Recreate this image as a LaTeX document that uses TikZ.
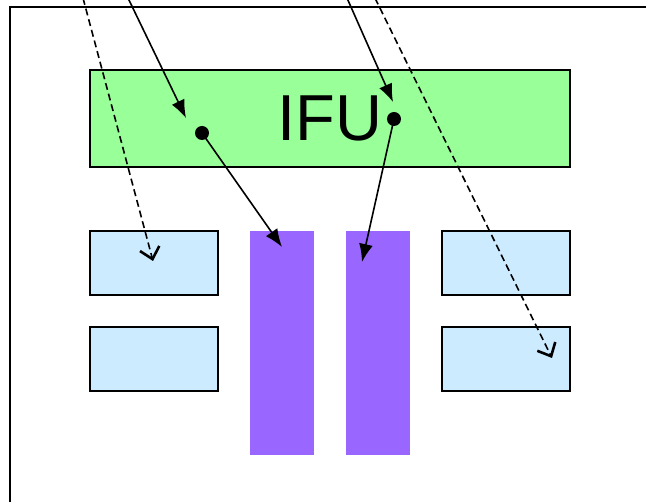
\documentclass[tikz,border=0pt]{standalone}
\usepackage{fontspec}
\setmainfont{Liberation Sans}
\usetikzlibrary{arrows.meta}
\definecolor{ifugreen}{HTML}{99FF99}
\definecolor{lightblue}{HTML}{CCEBFF}
\definecolor{barpurple}{HTML}{9966FF}
\begin{document}
\begin{tikzpicture}[x=1pt,y=-1pt,
  ifubox/.style={draw=black,line width=1.8pt,fill=ifugreen,minimum width=480pt,minimum height=97pt,inner sep=0pt,font=\fontsize{65}{78}\selectfont},
  bluebox/.style={draw=black,line width=1.8pt,fill=lightblue,minimum width=128pt,minimum height=64pt,inner sep=0pt},
  bar/.style={fill=barpurple,draw=none,minimum width=64pt,minimum height=224pt,inner sep=0pt},
  solidarrow/.style={line width=1.6pt,-{Latex[length=18pt,width=14pt]}},
  dasharrow/.style={line width=1.6pt,dash pattern=on 7pt off 4pt,-{Straight Barb[length=11pt,width=20pt,line width=2.6pt]}},
  dot/.style={circle,fill=black,inner sep=0pt,minimum size=14pt}]
\useasboundingbox (0,0) rectangle (646,502);
\clip (0,0) rectangle (646,502);
\draw[line width=1.6pt] (10,510) -- (10,7) -- (650,7);
\node[ifubox] (ifu) at (330,118.5) {IFU};
\node[bluebox] (lt) at (154,263) {};
\node[bluebox] (lb) at (154,359) {};
\node[bluebox] (rt) at (506,263) {};
\node[bluebox] (rb) at (506,359) {};
\node[bar] (pl) at (282,343) {};
\node[bar] (pr) at (378,343) {};
\node[dot] (dl) at (202,133) {};
\node[dot] (dr) at (394,119) {};
\coordinate (sA) at (128,-2);
\coordinate (tA) at (186,118);
\coordinate (sB) at (347,-2);
\coordinate (tB) at (393,102);
\coordinate (sC) at (83,-2);
\coordinate (tC) at (153,261);
\coordinate (sD) at (375,-2);
\coordinate (tD) at (552,358);
\coordinate (tE) at (282,247);
\coordinate (tF) at (362,262);
\draw[solidarrow] (sA) -- (tA);
\draw[solidarrow] (sB) -- (tB);
\draw[solidarrow] (dl.center) -- (tE);
\draw[solidarrow] (dr.center) -- (tF);
\draw[dasharrow] (sC) -- (tC);
\draw[dasharrow] (sD) -- (tD);
\end{tikzpicture}
\end{document}
